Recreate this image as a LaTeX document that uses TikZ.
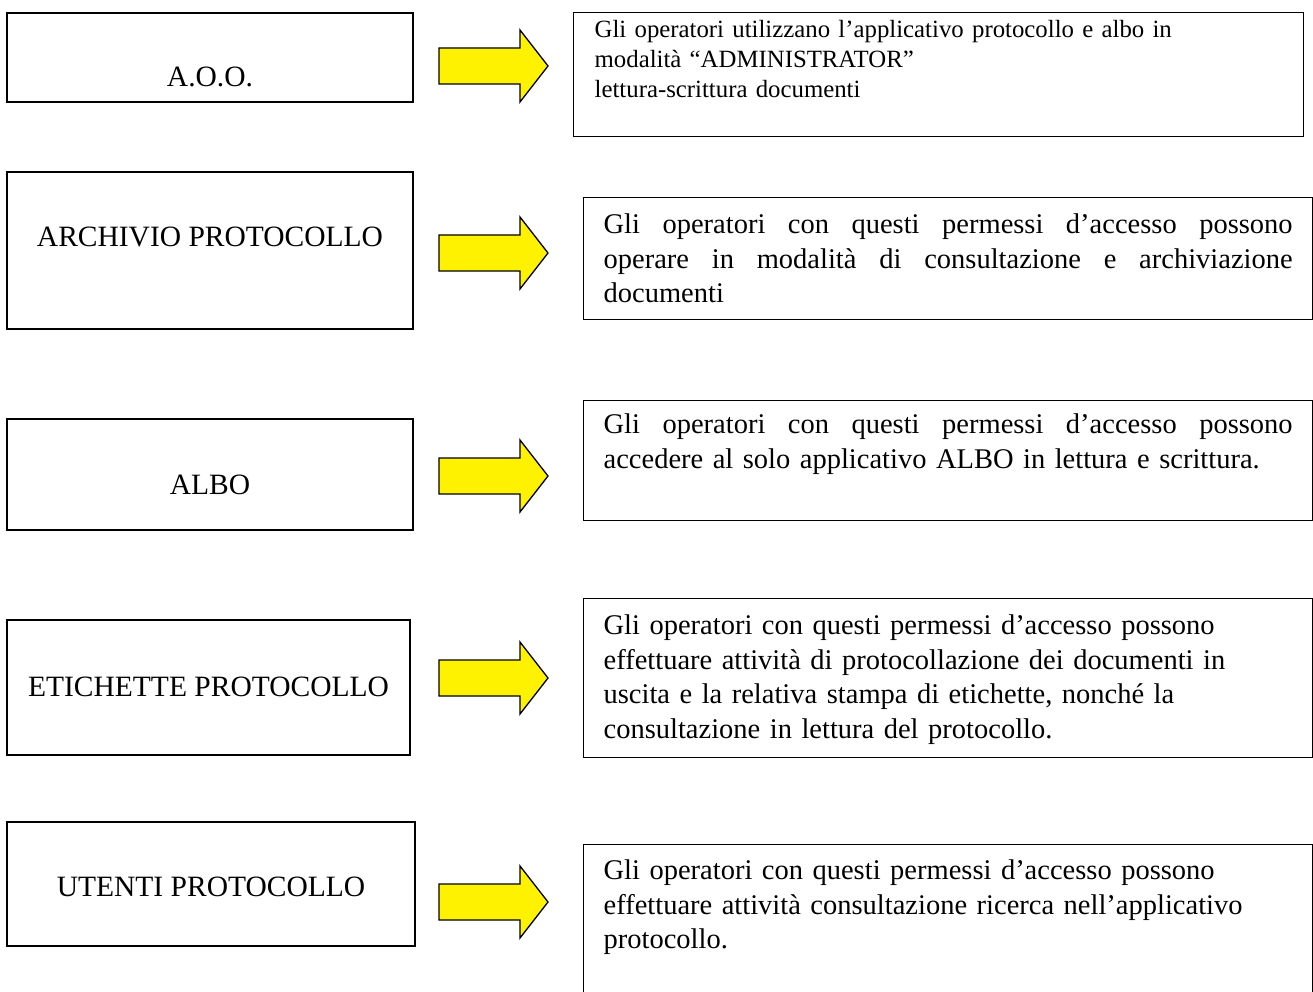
\documentclass[tikz,border=0pt]{standalone}
\usepackage{fontspec}
\setmainfont{Liberation Serif}
\newcommand{\justline}[1]{\leavevmode\hbox to 689pt{\spaceskip=0pt\xspaceskip=0pt #1}}
\begin{document}
\begin{tikzpicture}[x=1pt,y=-1pt,
  lbox/.style={draw=black, line width=1.3pt, inner sep=0pt, anchor=base,
    font=\fontsize{29.5}{34.5}\selectfont},
  rbox/.style={draw=black, line width=1.3pt, inner ysep=0pt, inner xsep=20pt,
    anchor=north west, align=left, font=\fontsize{28.5}{34.5}\selectfont},
  yarrow/.style={draw=black, line width=1.3pt, fill=yellow, line join=miter}
]
\useasboundingbox (0,0) rectangle (1313,992);

% left boxes
\node[lbox, minimum width=406pt, text height=74pt, text depth=15pt] (aoo) at (210,87) {A.O.O.};
\node[lbox, minimum width=406pt, text height=75pt, text depth=82pt] (arch) at (210,247) {ARCHIVIO PROTOCOLLO};
\node[lbox, minimum width=406pt, text height=75pt, text depth=36pt] (albo) at (210,494) {ALBO};
\node[lbox, minimum width=403pt, text height=76pt, text depth=59pt] (etic) at (208.5,696) {ETICHETTE PROTOCOLLO};
\node[lbox, minimum width=408pt, text height=74pt, text depth=50pt] (uten) at (211,896) {UTENTI PROTOCOLLO};

% block arrows
\foreach \c in {66,253,476,678,902}{
  \draw[yarrow] (439,\c) ++(0,-18) -- ++(81,0) -- ++(0,-18) -- ++(28,36)
     -- ++(-28,36) -- ++(0,-18) -- ++(-81,0) -- cycle;
}

% right boxes
\node[rbox, inner xsep=21pt, text width=688pt, font=\fontsize{24.8}{30}\selectfont] (r1) at (573,12)
  {\rule{0pt}{25pt}Gli operatori utilizzano l’applicativo protocollo e albo in\\
   modalità “ADMINISTRATOR”\\
   lettura-scrittura documenti\rule[-39pt]{0pt}{39pt}};

\node[rbox, text width=689pt] (r2) at (583,197)
  {\rule{0pt}{36pt}\justline{Gli operatori con questi permessi d’accesso possono}\\
   \justline{operare in modalità di consultazione e archiviazione}\\
   documenti\rule[-17pt]{0pt}{17pt}};

\node[rbox, text width=689pt] (r3) at (583,400)
  {\rule{0pt}{33pt}\justline{Gli operatori con questi permessi d’accesso possono}\\
   accedere al solo applicativo ALBO in lettura e scrittura.\rule[-52.5pt]{0pt}{52.5pt}};

\node[rbox, text width=689pt] (r4) at (583,598)
  {\rule{0pt}{36pt}Gli operatori con questi permessi d’accesso possono\\
   effettuare attività di protocollazione dei documenti in\\
   uscita e la relativa stampa di etichette, nonché la\\
   consultazione in lettura del protocollo.\rule[-19.5pt]{0pt}{19.5pt}};

\node[rbox, text width=689pt] (r5) at (583,844)
  {\rule{0pt}{35pt}Gli operatori con questi permessi d’accesso possono\\
   effettuare attività consultazione ricerca nell’applicativo\\
   protocollo.\rule[-62pt]{0pt}{62pt}};
\end{tikzpicture}
\end{document}
